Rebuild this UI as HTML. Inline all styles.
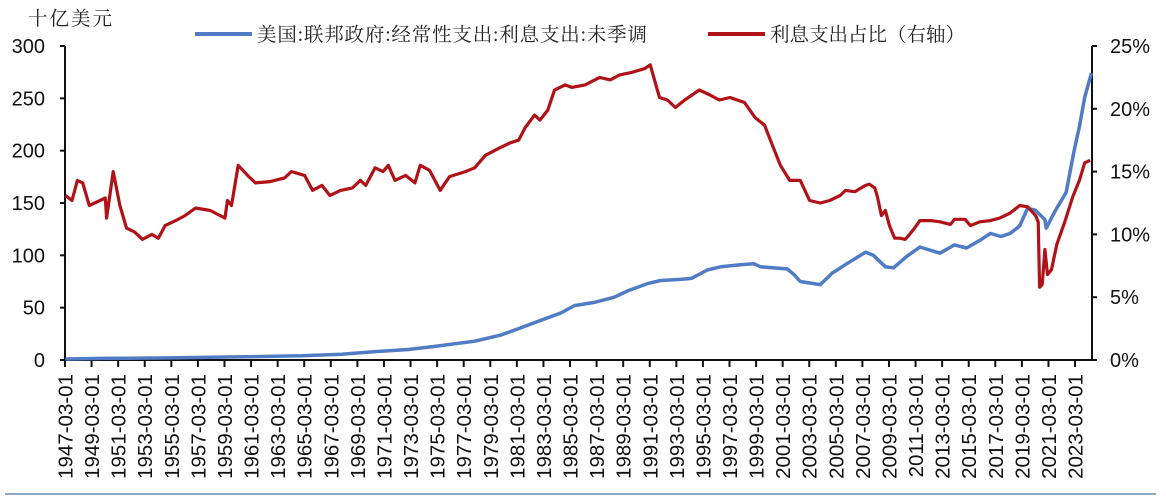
<!DOCTYPE html>
<html><head><meta charset="utf-8"><style>
html,body{margin:0;padding:0;background:#fff;}
svg{display:block;}
.tk{font-family:"Liberation Sans",Arial,sans-serif;font-size:20px;fill:#111;}
.xl{font-family:"Liberation Sans",Arial,sans-serif;font-size:20.5px;fill:#111;}
.cj{font-family:"Liberation Serif","Noto Serif CJK SC",serif;font-size:19.5px;fill:#222;}
</style></head><body>
<svg id="chart" width="1166" height="500" viewBox="0 0 1166 500" xmlns="http://www.w3.org/2000/svg">
<text class="cj" x="28" y="25" style="letter-spacing:2px">十亿美元</text>
<g>
<line x1="195" y1="34" x2="252" y2="34" stroke="#4F7CC4" stroke-width="4"/>
<text class="cj" x="257" y="41" textLength="390" lengthAdjust="spacing">美国:联邦政府:经常性支出:利息支出:未季调</text>
<line x1="708" y1="34" x2="765" y2="34" stroke="#B01218" stroke-width="4"/>
<text class="cj" x="770" y="41" textLength="195" lengthAdjust="spacing">利息支出占比（右轴）</text>
</g>
<g id="axes"></g>
<g id="series"></g>
<line x1="5" y1="494" x2="1156" y2="494" stroke="#8FA8C4" stroke-width="2"/>
</svg>
<script>
const leftTicks=[0,50,100,150,200,250,300];
const rightTicks=[0,5,10,15,20,25];
const rightTickLabels=["0%","5%","10%","15%","20%","25%"];
const xTickYears=[1947,1949,1951,1953,1955,1957,1959,1961,1963,1965,1967,1969,1971,1973,1975,1977,1979,1981,1983,1985,1987,1989,1991,1993,1995,1997,1999,2001,2003,2005,2007,2009,2011,2013,2015,2017,2019,2021,2023];
const blueYears=[1947.2,1950,1955,1960,1965,1968,1970.5,1973,1975,1978,1980,1981.3,1983,1984.5,1985.5,1987,1988.5,1989.5,1991,1992,1993.5,1994.3,1995.5,1996.5,1998,1999,1999.5,2000.5,2001.5,2002,2002.5,2004,2004.9,2006,2007.4,2008,2008.9,2009.5,2010.5,2011.5,2013,2014.1,2015,2016.1,2016.8,2017.6,2018.3,2019,2019.6,2020.2,2020.9,2021,2021.7,2022.5,2023.1,2023.5,2023.9,2024.4];
const blueValues=[1,1.5,2,3,4,5.5,8,10,13,18,24,30,38,45,52,55,60,66,73,76,77,78,86,89,91,92,89,88,87,82,75,72,83,92,103,100,89,88,99,108,102,110,107,115,121,118,121,128,145,143,134,126,143,160,200,223,251,274];
const redYears=[1947.2,1947.7,1948.1,1948.5,1949.0,1949.8,1950.2,1950.3,1950.8,1951.3,1951.8,1952.4,1953.0,1953.7,1954.2,1954.7,1955.5,1956.2,1957.0,1958.1,1959.2,1959.4,1959.7,1960.2,1961.0,1961.5,1962.6,1963.7,1964.2,1965.2,1965.8,1966.5,1967.1,1967.9,1968.8,1969.4,1969.8,1970.5,1971.1,1971.5,1972.0,1972.8,1973.5,1973.9,1974.6,1975.4,1976.1,1977.3,1978.0,1978.8,1979.9,1980.7,1981.3,1981.8,1982.5,1982.9,1983.5,1984.0,1984.8,1985.3,1986.3,1987.4,1988.2,1988.9,1989.8,1990.8,1991.2,1991.9,1992.5,1993.1,1993.8,1994.9,1995.7,1996.4,1997.2,1998.3,1999.1,1999.8,2000.4,2001.0,2001.7,2002.5,2003.2,2004.0,2004.7,2005.5,2005.9,2006.6,2007.4,2007.7,2008.1,2008.3,2008.6,2008.9,2009.2,2009.6,2010.0,2010.4,2010.8,2011.1,2011.5,2012.3,2013.0,2013.8,2014.1,2014.9,2015.3,2016.0,2016.8,2017.5,2018.3,2019.0,2019.6,2020.2,2020.4,2020.5,2020.7,2020.9,2021.1,2021.4,2021.8,2022.4,2023.0,2023.5,2023.9,2024.3];
const redValues=[13.1,12.7,14.3,14.1,12.3,12.7,12.9,11.3,15.0,12.3,10.5,10.2,9.6,10.0,9.7,10.7,11.1,11.5,12.1,11.9,11.3,12.7,12.3,15.5,14.6,14.1,14.2,14.5,15.0,14.7,13.5,13.9,13.1,13.5,13.7,14.3,13.9,15.3,15.0,15.5,14.3,14.7,14.1,15.5,15.1,13.5,14.6,15.0,15.3,16.3,16.9,17.3,17.5,18.5,19.5,19.1,19.9,21.5,21.9,21.7,21.9,22.5,22.3,22.7,22.9,23.2,23.5,20.9,20.7,20.1,20.7,21.5,21.1,20.7,20.9,20.5,19.3,18.7,17.1,15.5,14.3,14.3,12.7,12.5,12.7,13.1,13.5,13.4,13.9,14.0,13.7,13.0,11.5,11.9,10.7,9.7,9.7,9.6,10.1,10.5,11.1,11.1,11.0,10.8,11.2,11.2,10.7,11.0,11.1,11.3,11.7,12.3,12.2,11.5,11.0,5.8,6.0,8.8,6.8,7.2,9.2,11.0,13.0,14.3,15.7,15.9];

const NS="http://www.w3.org/2000/svg";
const X0=65,X1=1092,Y0=360,Y1=46;
const yearStart=1947.17,pxPerYear=13.29;
const xOf=y=>X0+(y-yearStart)*pxPerYear;
const yLeft=v=>Y0-(v/300)*(Y0-Y1);
const yRight=v=>Y0-(v/25)*(Y0-Y1);
function mk(tag,attrs,parent){const e=document.createElementNS(NS,tag);for(const k in attrs)e.setAttribute(k,attrs[k]);parent.appendChild(e);return e;}
const axes=document.getElementById('axes'),series=document.getElementById('series');

let e=mk('line',{x1:X0,y1:Y1,x2:X0,y2:Y0,stroke:'#111','stroke-width':2},axes);


e=mk('line',{x1:X1,y1:Y1,x2:X1,y2:Y0,stroke:'#111','stroke-width':2},axes);


e=mk('line',{x1:X0,y1:Y0,x2:X1,y2:Y0,stroke:'#111','stroke-width':2},axes);



leftTicks.forEach(v=>{const y=yLeft(v);
 let t=mk('line',{x1:X0-5,y1:y,x2:X0,y2:y,stroke:'#111','stroke-width':2},axes);
 
 
 let l=mk('text',{x:X0-20,y:y+7,'text-anchor':'end',class:'tk'},axes);l.textContent=v;
 
 
});
rightTicks.forEach((v,i)=>{const y=yRight(v);
 let t=mk('line',{x1:X1,y1:y,x2:X1+5,y2:y,stroke:'#111','stroke-width':2},axes);
 
 
 let l=mk('text',{x:X1+18,y:y+7,'text-anchor':'start',class:'tk'},axes);l.textContent=rightTickLabels[i];
 
 
});
xTickYears.forEach(yr=>{const x=xOf(yr+0.17);
 let t=mk('line',{x1:x,y1:Y0,x2:x,y2:Y0+7,stroke:'#111','stroke-width':2},axes);
 
 
 let l=mk('text',{x:0,y:0,'text-anchor':'end',class:'xl',transform:`translate(${x+7.5},374) rotate(-90)`},axes);
 l.textContent=yr+'-03-01';
 
 
});
function pathOf(xs,vs,yf){return xs.map((x,i)=>(i?'L':'M')+xOf(x).toFixed(1)+','+yf(vs[i]).toFixed(1)).join(' ');}
let b=mk('path',{d:pathOf(blueYears,blueValues,yLeft),fill:'none',stroke:'#4F7CC4','stroke-width':3.5,'stroke-linejoin':'round'},series);


let r=mk('path',{d:pathOf(redYears,redValues,yRight),fill:'none',stroke:'#B01218','stroke-width':3.2,'stroke-linejoin':'round'},series);


</script>
</body></html>
